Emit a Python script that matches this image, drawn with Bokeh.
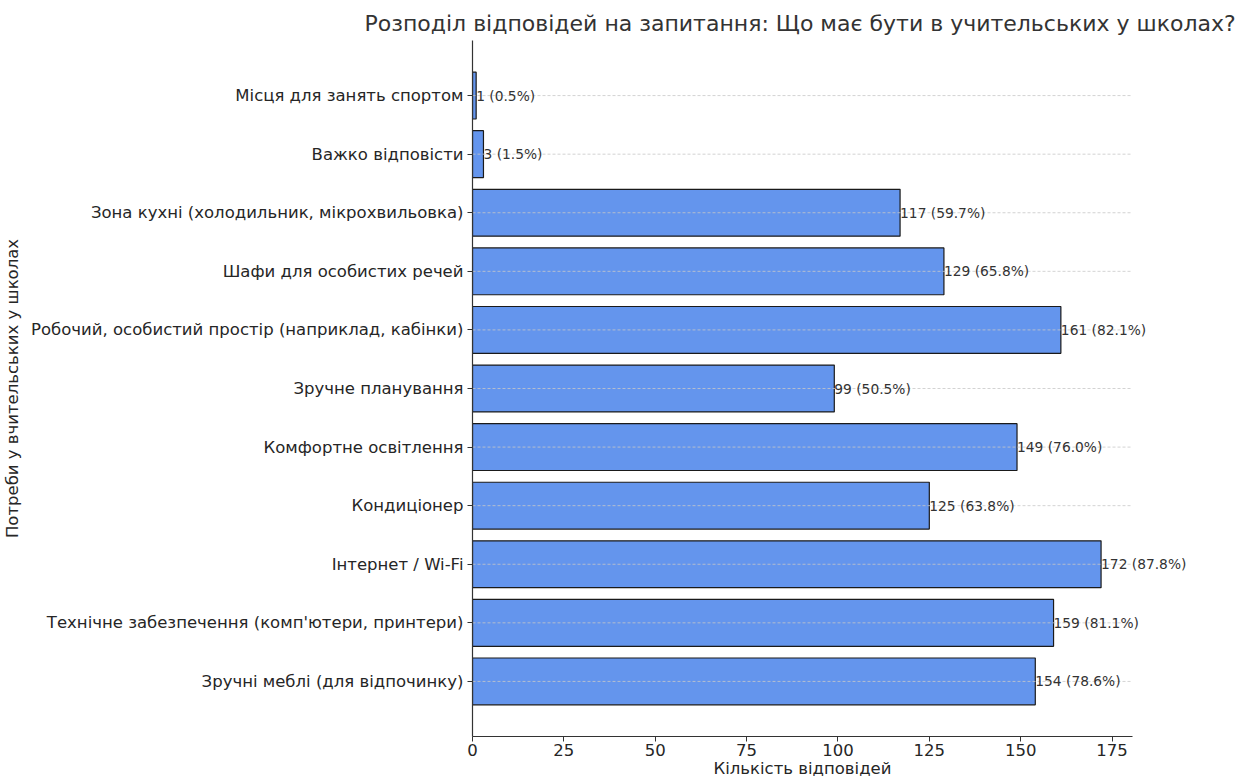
from bokeh.plotting import figure
from bokeh.models import ColumnDataSource, FactorRange, Range1d, FixedTicker, Title
from bokeh.core.properties import value
from bokeh.embed import file_html
from bokeh.resources import INLINE

categories = [
    "Місця для занять спортом",
    "Важко відповісти",
    "Зона кухні (холодильник, мікрохвильовка)",
    "Шафи для особистих речей",
    "Робочий, особистий простір (наприклад, кабінки)",
    "Зручне планування",
    "Комфортне освітлення",
    "Кондиціонер",
    "Інтернет / Wi-Fi",
    "Технічне забезпечення (комп'ютери, принтери)",
    "Зручні меблі (для відпочинку)",
]
counts = [1, 3, 117, 129, 161, 99, 149, 125, 172, 159, 154]
percents = ["0.5%", "1.5%", "59.7%", "65.8%", "82.1%", "50.5%", "76.0%", "63.8%", "87.8%", "81.1%", "78.6%"]
x_ticks = [0, 25, 50, 75, 100, 125, 150, 175]

labels = [f"{c} ({p})" for c, p in zip(counts, percents)]

FONT = "DejaVu Sans"
TXT = "#262626"

# axis limit (max value + 5 % margin); frame widened so value labels are not clipped
x_max = max(counts) * 1.05
AXIS_PX = 660
FRAME_PX = 770
x_view = x_max * FRAME_PX / AXIS_PX

src = ColumnDataSource(dict(cat=categories, cnt=counts, lab=labels,
                            zero=[0] * len(categories), xmax=[x_max] * len(categories)))

factors = list(reversed(categories))
p = figure(
    y_range=FactorRange(factors=factors, range_padding=0.08, range_padding_units="percent"),
    x_range=Range1d(0, x_view),
    frame_width=FRAME_PX, frame_height=696,
    min_border_left=0, min_border_right=0, min_border_top=40, min_border_bottom=0,
    output_backend="svg", toolbar_location=None,
)

p.hbar(y="cat", right="cnt", left=0, height=0.8, source=src,
       fill_color="#6495ED", line_color="#1a1a1a", line_width=1.2)

# dashed horizontal grid lines (over the bars, up to the axis end)
p.segment(x0="zero", y0="cat", x1="xmax", y1="cat", source=src,
          line_color="#c8c8c8", line_dash="3 2", line_width=0.8)

p.text(x="cnt", y="cat", text="lab", source=src, text_align="left", text_baseline="middle",
       text_font=value(FONT), text_font_size="13.8px", text_color="#333333")

# title centred over the axis span (0 .. x_max)
title = Title(text="Розподіл відповідей на запитання: Що має бути в учительських у школах?",
              text_font=FONT, text_font_size="22px", text_font_style="normal",
              text_color="#333333", align="left", offset=-108)
p.add_layout(title, "above")

# x axis label, centred under the axis span
xlabel = Title(text="Кількість відповідей", text_font=FONT, text_font_size="16.5px",
               text_font_style="normal", text_color=TXT, align="left", offset=241,
               standoff=-3)
p.add_layout(xlabel, "below")

p.outline_line_color = None
p.xgrid.grid_line_color = None
p.ygrid.grid_line_color = None

p.xaxis.ticker = FixedTicker(ticks=x_ticks)
p.xaxis.bounds = (0, x_max)
p.xaxis.minor_tick_line_color = None
for ax in (p.xaxis, p.yaxis):
    ax.axis_line_color = "#333333"
    ax.axis_line_width = 1.2
    ax.major_tick_line_color = "#333333"
    ax.major_tick_in = 0
    ax.major_tick_out = 5
    ax.major_label_text_font = FONT
    ax.major_label_text_font_size = "16.5px"
    ax.major_label_text_color = TXT
    ax.axis_label_text_font = FONT
    ax.axis_label_text_font_size = "16.5px"
    ax.axis_label_text_font_style = "normal"
    ax.axis_label_text_color = TXT

p.yaxis.axis_label = "Потреби у вчительських у школах"
p.xaxis.major_label_standoff = 2
p.yaxis.axis_label_standoff = 6
p.yaxis.major_label_standoff = 4

open("out.html", "w").write(file_html(p, INLINE))
